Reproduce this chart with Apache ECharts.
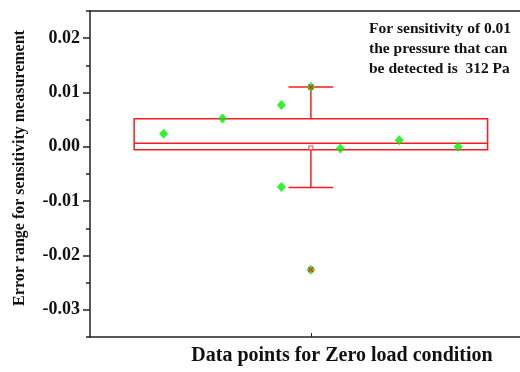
<!DOCTYPE html>
<html>
<head>
<meta charset="utf-8">
<script src="https://cdn.jsdelivr.net/npm/echarts@6/dist/echarts.min.js"></script>
<style>
  html, body { margin: 0; padding: 0; background: #fff; }
  #chart { width: 520px; height: 372px; }
</style>
</head>
<body>
<div id="chart"></div>
<script>
// data points (x = position along the box, y = error)
var pointX = [1, 2, 3, 3, 3.5, 3.5, 4, 5, 6];
var pointY = [0.0024, 0.0052, 0.0077, -0.0074, 0.011, -0.0226, -0.0003, 0.0012, 0.0000];
// box statistics: [center, lower whisker, Q1, median, Q3, upper whisker]
var boxStats = [3.5, -0.0075, -0.00055, 0.00068, 0.00516, 0.011];
var boxMean = [3.5, -0.0002];
var extremes = [[3.5, 0.011], [3.5, -0.0226]];
var yTicks = [-0.03, -0.02, -0.01, 0.00, 0.01, 0.02];

var serif = '"Liberation Serif", "Times New Roman", serif';
var chart = echarts.init(document.getElementById('chart'));

var option = {
  animation: false,
  grid: { left: 90, right: 0, top: 11, bottom: 35 },
  xAxis: [{
    type: 'value', min: -0.25, max: 7.05, position: 'bottom',
    axisLine: { show: true, onZero: false, lineStyle: { color: '#222', width: 1.5 } },
    axisTick: { show: true, inside: true, length: 4, customValues: [3.5], lineStyle: { color: '#222' } },
    axisLabel: { show: false },
    splitLine: { show: false }
  }, {
    type: 'value', min: -0.25, max: 7.05, position: 'top',
    axisLine: { show: true, onZero: false, lineStyle: { color: '#222', width: 1.5 } },
    axisTick: { show: false }, axisLabel: { show: false }, splitLine: { show: false }
  }],
  yAxis: [{
    type: 'value', min: -0.035, max: 0.025,
    axisLine: { show: true, onZero: false, lineStyle: { color: '#222', width: 1.5 } },
    axisTick: { show: true, length: 7, customValues: yTicks, lineStyle: { color: '#222', width: 1.5 } },
    axisLabel: {
      customValues: yTicks, margin: 10,
      fontFamily: serif, fontWeight: 'bold', fontSize: 18, color: '#111',
      formatter: function (v) { return v.toFixed(2); }
    },
    splitLine: { show: false }
  }, {
    type: 'value', min: -0.035, max: 0.025, interval: 0.005, position: 'left',
    axisLine: { show: false, onZero: false },
    axisTick: { show: true, length: 4, lineStyle: { color: '#222', width: 1.5 } },
    axisLabel: { show: false },
    splitLine: { show: false }
  }],
  series: [{
    type: 'custom',
    xAxisIndex: 0, yAxisIndex: 0,
    data: [boxStats],
    renderItem: function (params, api) {
      var c = api.value(0);
      var lo = api.value(1), q1 = api.value(2), med = api.value(3), q3 = api.value(4), hi = api.value(5);
      var half = 3, cap = 0.38;
      var tl = api.coord([c - half, q3]), br = api.coord([c + half, q1]);
      var mL = api.coord([c - half, med]), mR = api.coord([c + half, med]);
      var pHi = api.coord([c, hi]), pQ3 = api.coord([c, q3]);
      var pLo = api.coord([c, lo]), pQ1 = api.coord([c, q1]);
      var cHiL = api.coord([c - cap, hi]), cHiR = api.coord([c + cap, hi]);
      var cLoL = api.coord([c - cap, lo]), cLoR = api.coord([c + cap, lo]);
      var st = { stroke: '#ff1a1a', lineWidth: 1.5, fill: null };
      return {
        type: 'group',
        children: [
          { type: 'rect', shape: { x: tl[0], y: tl[1], width: br[0] - tl[0], height: br[1] - tl[1] }, style: st },
          { type: 'line', shape: { x1: mL[0], y1: mL[1], x2: mR[0], y2: mR[1] }, style: st },
          { type: 'line', shape: { x1: pQ3[0], y1: pQ3[1], x2: pHi[0], y2: pHi[1] }, style: st },
          { type: 'line', shape: { x1: cHiL[0], y1: cHiL[1], x2: cHiR[0], y2: cHiR[1] }, style: st },
          { type: 'line', shape: { x1: pQ1[0], y1: pQ1[1], x2: pLo[0], y2: pLo[1] }, style: st },
          { type: 'line', shape: { x1: cLoL[0], y1: cLoL[1], x2: cLoR[0], y2: cLoR[1] }, style: st }
        ]
      };
    },
    z: 1
  }, {
    type: 'scatter',
    data: pointX.map(function (x, i) { return [x, pointY[i]]; }),
    symbol: 'diamond', symbolSize: [9, 10],
    itemStyle: { color: '#00ee00' },
    z: 2
  }, {
    type: 'scatter',
    data: [boxMean],
    symbol: 'rect', symbolSize: 4,
    itemStyle: { color: '#fff', borderColor: '#ff1a1a', borderWidth: 1 },
    z: 3
  }, {
    type: 'scatter',
    data: extremes,
    symbol: 'path://M0,0L10,10M10,0L0,10', symbolSize: 5,
    itemStyle: { color: 'none', borderColor: '#ff1a1a', borderWidth: 1.5 },
    z: 4
  }],
  graphic: [{
    type: 'text', x: 369, y: 19,
    style: {
      text: 'For sensitivity of 0.01\nthe pressure that can\nbe detected is  312 Pa',
      font: 'bold 15.5px ' + serif, fill: '#111', lineHeight: 20
    }
  }, {
    type: 'text', x: 342, y: 356,
    style: {
      text: 'Data points for Zero load condition',
      font: 'bold 20px ' + serif, fill: '#111', align: 'center', verticalAlign: 'middle'
    }
  }, {
    type: 'text', x: 20, y: 168, rotation: Math.PI / 2,
    style: {
      text: 'Error range for sensitivity measurement',
      font: 'bold 16px ' + serif, fill: '#111', align: 'center', verticalAlign: 'middle'
    }
  }]
};
chart.setOption(option);
</script>
</body>
</html>
